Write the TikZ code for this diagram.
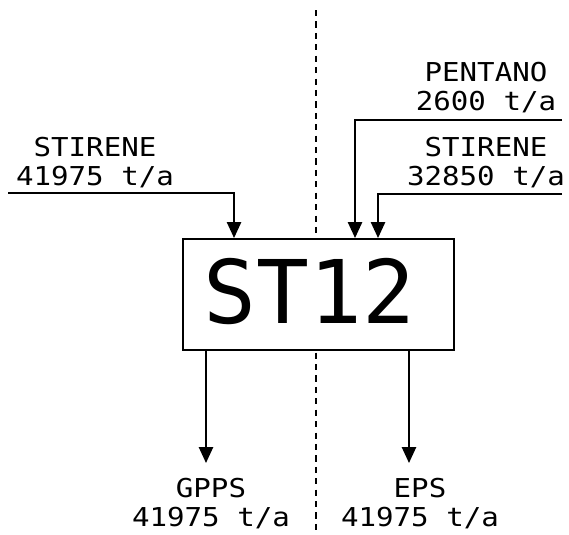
\documentclass[tikz,border=0pt]{standalone}
\usepackage{fontspec}
\usepackage{tikz}
\usetikzlibrary{arrows.meta,positioning,calc}
\newfontfamily\lblfont[FakeStretch=1.12]{DejaVu Sans Mono}
\newfontfamily\unitfont{DejaVu Sans Mono}
\begin{document}
\begin{tikzpicture}[
  x=0.02cm, y=-0.02cm,
  every node/.style={font=\lblfont\fontsize{14.8pt}{16.5pt}\selectfont},
  unit/.style={
    draw, fill=white, line width=1.1pt,
    minimum width=271*0.02cm, minimum height=111*0.02cm, inner sep=0pt,
    font=\unitfont\fontsize{50pt}{60pt}\selectfont
  },
  flowlbl/.style={align=center, inner sep=0pt},
  flow/.style={-{Triangle[length=9pt,width=8pt]}, line width=1.1pt},
  divider/.style={dash pattern=on 3.5pt off 3pt, line width=0.8pt}
]
  \useasboundingbox (0,0) rectangle (569,535);

  % plant boundary
  \coordinate (divTop) at (316,10);
  \coordinate (divBot) at (316,535);
  \draw[divider] (divTop) -- (divBot);

  % unit
  \node[unit] (st12) at (318.5,294.5) {\raisebox{0.14cm}{ST12\kern0.36cm}};

  % feeds
  \coordinate (inStyL) at (8,193);
  \coordinate (inPent) at (562,120);
  \coordinate (inStyR) at (562,194);
  \draw[flow] (inStyL) -| ($(st12.north west)+(52,0)$);
  \draw[flow] (inPent) -| ($(st12.north west)+(173,0)$);
  \draw[flow] (inStyR) -| ($(st12.north west)+(196,0)$);

  \node[flowlbl, anchor=south] (lblStyL) at (95,188) {STIRENE\\41975 t/a};
  \node[flowlbl, anchor=south] (lblPent) at (486,113) {PENTANO\\2600 t/a};
  \node[flowlbl, anchor=south] (lblStyR) at (486,188) {STIRENE\\32850 t/a};

  % products
  \coordinate (outGpps) at (206,463);
  \coordinate (outEps) at (409,463);
  \draw[flow] (st12.south -| outGpps) -- (outGpps);
  \draw[flow] (st12.south -| outEps) -- (outEps);

  \node[flowlbl, anchor=north] (lblGpps) at (211,478) {GPPS\\41975 t/a};
  \node[flowlbl, anchor=north] (lblEps) at (420,478) {EPS\\41975 t/a};
\end{tikzpicture}
\end{document}
